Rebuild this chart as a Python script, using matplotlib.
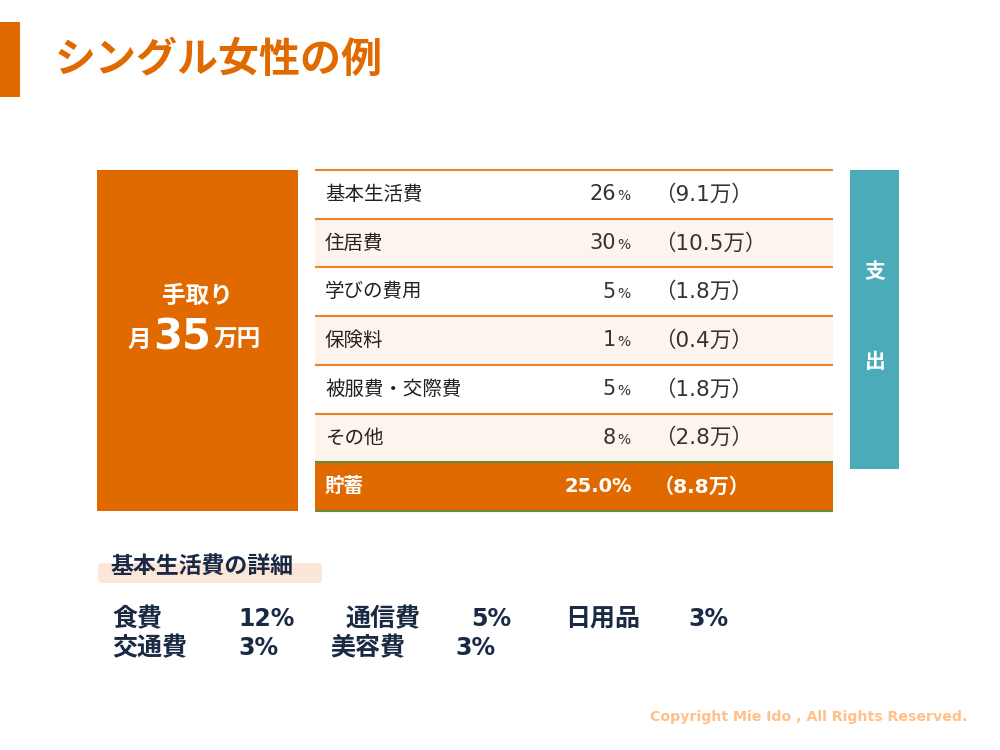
import matplotlib.pyplot as plt
from matplotlib.patches import Rectangle, FancyBboxPatch

plt.rcParams['font.family'] = ['Noto Sans CJK JP', 'DejaVu Sans']
NUM_FONT = ['DejaVu Sans', 'Noto Sans CJK JP']

# 支出の内訳
labels = ['基本生活費', '住居費', '学びの費用', '保険料', '被服費・交際費', 'その他']
pcts = [26, 30, 5, 1, 5, 8]
amounts = [9.1, 10.5, 1.8, 0.4, 1.8, 2.8]
saving_label = '貯蓄'
saving_pct = 25.0
saving_amount = 8.8
income = 35

# 基本生活費の詳細
detail_rows = [
    [('食費', 12), ('通信費', 5), ('日用品', 3)],
    [('交通費', 3), ('美容費', 3)],
]

ORANGE = '#E06A00'
LINE = '#E8832A'
CREAM = '#FDF4EE'
TEAL = '#4BABB8'
NAVY = '#1B2A44'
TEXT = '#222222'

fig = plt.figure(figsize=(10, 7.5), dpi=100)
ax = fig.add_axes([0, 0, 1, 1])
ax.set_xlim(0, 1000)
ax.set_ylim(750, 0)
ax.axis('off')

# タイトル
ax.add_patch(Rectangle((0, 22), 20, 75, color=ORANGE, lw=0))
ax.text(55, 60, 'シングル女性の例', fontsize=29.5, fontweight='bold',
        color=ORANGE, va='center', ha='left')

# 手取りボックス
ax.add_patch(Rectangle((97, 170), 201, 341, color=ORANGE, lw=0))
ax.text(197, 296, '手取り', fontsize=17, fontweight='bold', color='white',
        ha='center', va='center')
ax.text(127, 340, '月', fontsize=17, fontweight='bold', color='white',
        ha='left', va='center')
ax.text(153, 337, str(income), fontsize=30, fontweight='bold', color='white',
        ha='left', va='center', family=NUM_FONT)
ax.text(214, 340, '万円', fontsize=17, fontweight='bold', color='white',
        ha='left', va='center')

# 表
x0, x1 = 315, 833
top = 170
row_h = (511 - top) / (len(labels) + 1)
for i, (lab, p, a) in enumerate(zip(labels, pcts, amounts)):
    y = top + i * row_h
    fc = CREAM if i % 2 == 1 else 'white'
    ax.add_patch(Rectangle((x0, y), x1 - x0, row_h, color=fc, lw=0))
    yc = y + row_h / 2
    ax.text(325, yc, lab, fontsize=14, color=TEXT, ha='left', va='center')
    ax.text(616, yc, str(p), fontsize=15, color='#333333', ha='right', va='center',
            family=NUM_FONT)
    ax.text(617, yc + 2, '%', fontsize=10, color='#333333', ha='left', va='center',
            family=NUM_FONT)
    ax.text(654, yc, f'（{a}万）', fontsize=15.5, color='#333333', ha='left', va='center',
            family=NUM_FONT)

ys = top + len(labels) * row_h
ax.add_patch(Rectangle((x0, ys), x1 - x0, row_h, color=ORANGE, lw=0))
yc = ys + row_h / 2
ax.text(325, yc, saving_label, fontsize=14, fontweight='bold', color='white',
        ha='left', va='center')
ax.text(632, yc, f'{saving_pct:.1f}%', fontsize=14, fontweight='bold', color='white',
        ha='right', va='center', family=NUM_FONT)
ax.text(654, yc, f'（{saving_amount}万）', fontsize=14.5, fontweight='bold', color='white',
        ha='left', va='center', family=NUM_FONT)

for i in range(len(labels) + 2):
    y = top + i * row_h
    c = '#6B8A3A' if i >= len(labels) else LINE
    ax.plot([x0, x1], [y, y], color=c, lw=1.5, solid_capstyle='butt')

# 支出ボックス
ax.add_patch(Rectangle((850, 170), 49, 299, color=TEAL, lw=0))
ax.text(875, 272, '支', fontsize=15, fontweight='bold', color='white',
        ha='center', va='center')
ax.text(875, 362, '出', fontsize=15, fontweight='bold', color='white',
        ha='center', va='center')

# 基本生活費の詳細
ax.add_patch(FancyBboxPatch((98, 563), 224, 20, boxstyle='round,pad=0,rounding_size=4',
                            fc='#FCE6D8', ec='none'))
ax.text(110, 567, '基本生活費の詳細', fontsize=16.5, fontweight='bold', color=NAVY,
        ha='left', va='center')

row_layout = [
    [(112, 238), (346, 471), (565, 688)],
    [(112, 238), (330, 455)],
]
for r, (items, pos) in enumerate(zip(detail_rows, row_layout)):
    y = 619 + r * 29
    for (name, v), (xn, xv) in zip(items, pos):
        ax.text(xn, y, name, fontsize=18, fontweight='bold', color=NAVY,
                ha='left', va='center')
        ax.text(xv, y, f'{v}%', fontsize=17, fontweight='bold', color=NAVY,
                ha='left', va='center', family=NUM_FONT)

ax.text(650, 717, 'Copyright Mie Ido , All Rights Reserved.', fontsize=10.2,
        fontweight='bold', color='#FFC08A', ha='left', va='center',
        family=['DejaVu Sans'])

fig.savefig('out.png', dpi=100)
